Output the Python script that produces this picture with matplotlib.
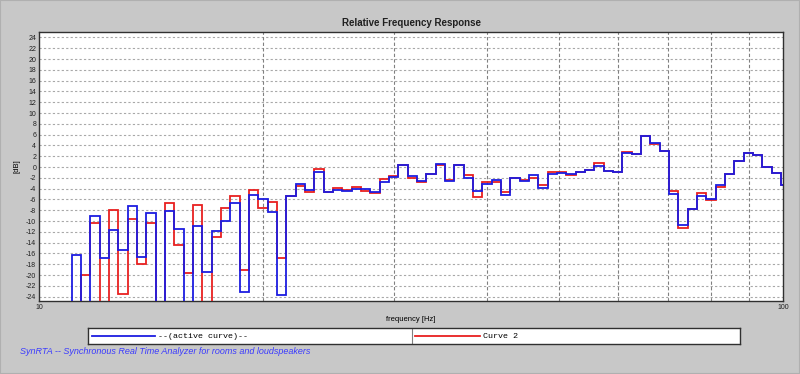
import numpy as np
import matplotlib
matplotlib.use("Agg")
import matplotlib.pyplot as plt
from matplotlib.patches import Rectangle

# 1/24 octave bands from 10 Hz, values in dB (OFF = below the chart)
OFF = -40.0
band_index = np.arange(81)
active_curve = [OFF, OFF, OFF, OFF, -16.2, OFF, -9.0, -16.8, -11.7, -15.3,
                -7.2, -16.7, -8.5, OFF, -8.1, -11.4, OFF, -10.9, -19.4, -11.85,
                -10.0, -6.7, -23.1, -5.1, -6.0, -8.3, -23.6, -5.3, -3.2, -4.2,
                -1.0, -4.7, -4.3, -4.5, -4.05, -4.1, -4.7, -2.8, -1.8, 0.3,
                -1.6, -2.6, -1.2, 0.55, -2.65, 0.3, -2.0, -4.4, -3.2, -2.45,
                -5.1, -2.0, -2.55, -1.5, -3.9, -1.3, -1.05, -1.3, -0.9, -0.6,
                0.2, -0.7, -0.95, 2.6, 2.4, 5.7, 4.4, 2.9, -4.9, -10.7,
                -7.8, -5.45, -5.85, -3.4, -1.2, 1.1, 2.55, 2.15, 0.1, -1.05,
                -3.3]
curve_2 = [OFF, OFF, OFF, OFF, OFF, -19.9, -10.4, OFF, -8.0, -23.5,
           -9.6, -18.0, -10.4, OFF, -6.7, -14.4, -19.7, -7.0, OFF, -13.0,
           -7.65, -5.4, -19.0, -4.2, -7.5, -6.4, -16.8, -5.3, -3.6, -4.7,
           -0.4, -4.7, -3.9, -4.25, -3.75, -4.4, -4.8, -2.15, -1.65, 0.3,
           -2.0, -2.8, -1.2, 0.45, -2.4, 0.45, -1.5, -5.5, -2.8, -2.8,
           -4.7, -2.0, -2.4, -1.95, -3.3, -1.0, -1.0, -1.5, -0.9, -0.6,
           0.8, -0.7, -0.95, 2.75, 2.45, 5.8, 4.3, 2.9, -4.35, -11.2,
           -7.8, -4.8, -6.1, -3.7, -1.2, 1.1, 2.55, 2.15, 0.1, -1.05,
           -3.3]
y_ticks = np.arange(-24, 25, 2)
v_grid = [20, 30, 40, 50, 60, 70, 80, 90]

edges = 10 * 2 ** ((np.append(band_index, band_index[-1] + 1) - 0.5) / 24)

W, H = 800, 374
bg = "#c8c8c8"
fig = plt.figure(figsize=(W / 100, H / 100), dpi=100, facecolor=bg)
fig.patches.append(Rectangle((0, 0), 1, 1, transform=fig.transFigure,
                             fill=False, edgecolor="#b0b0b0", lw=1.5))

ax = fig.add_axes([39 / W, 1 - 301 / H, 744 / W, 269 / H])
ax.set_facecolor("white")
ax.set_xscale("log")
ax.set_xlim(10, 100)
ax.set_ylim(-24.8, 25.0)

for y in y_ticks:
    ax.axhline(y, color="#a8a8a8", lw=0.8, ls=(0, (2, 2)), zorder=1)
for x in v_grid:
    ax.axvline(x, color="#808080", lw=0.8, ls=(0, (3, 2)), zorder=1)

ax.stairs(curve_2, edges, baseline=None, color="#e82020", lw=1.3, zorder=3)
ax.stairs(active_curve, edges, baseline=None, color="#1c1ce0", lw=1.3, zorder=4)

ax.set_yticks(y_ticks)
ax.set_yticklabels([str(v) for v in y_ticks], fontsize=5, family="Liberation Sans")
ax.set_xticks([10, 100])
ax.set_xticklabels(["10", "100"], fontsize=5, family="Liberation Sans")
ax.xaxis.set_minor_locator(plt.NullLocator())
ax.tick_params(length=0, pad=2, colors="#202020")
for s in ax.spines.values():
    s.set_color("#303030")
    s.set_linewidth(1.0)

ax.set_ylabel("[dB]", fontsize=5.5, family="Liberation Sans", labelpad=4)
ax.set_xlabel("frequency [Hz]", fontsize=5.5, family="Liberation Sans", labelpad=4)
ax.set_title("Relative Frequency Response", fontsize=7, fontweight="bold",
             family="Liberation Sans", color="#202020", pad=4.5)

# legend strip
lg = fig.add_axes([88 / W, 1 - 344 / H, 652 / W, 16 / H])
lg.set_facecolor("white")
lg.set_xlim(0, 652)
lg.set_ylim(0, 16)
lg.set_xticks([])
lg.set_yticks([])
for s in lg.spines.values():
    s.set_color("#303030")
    s.set_linewidth(1.0)
lg.axvline(324, color="#808080", lw=0.8)
lg.plot([4, 67], [8, 8], color="#1c1ce0", lw=1.3)
lg.text(70, 8, "--(active curve)--", fontsize=6, family="Liberation Mono",
        va="center", ha="left")
lg.plot([327, 392], [8, 8], color="#e82020", lw=1.3)
lg.text(395, 8, "Curve 2", fontsize=6, family="Liberation Mono",
        va="center", ha="left")

fig.text(20 / W, 1 - 351 / H, "SynRTA -- Synchronous Real Time Analyzer for rooms and loudspeakers",
         fontsize=6.5, style="italic", color="#3a3aff", family="Liberation Sans",
         va="center", ha="left")

fig.savefig("out.png", dpi=100, facecolor=bg)
